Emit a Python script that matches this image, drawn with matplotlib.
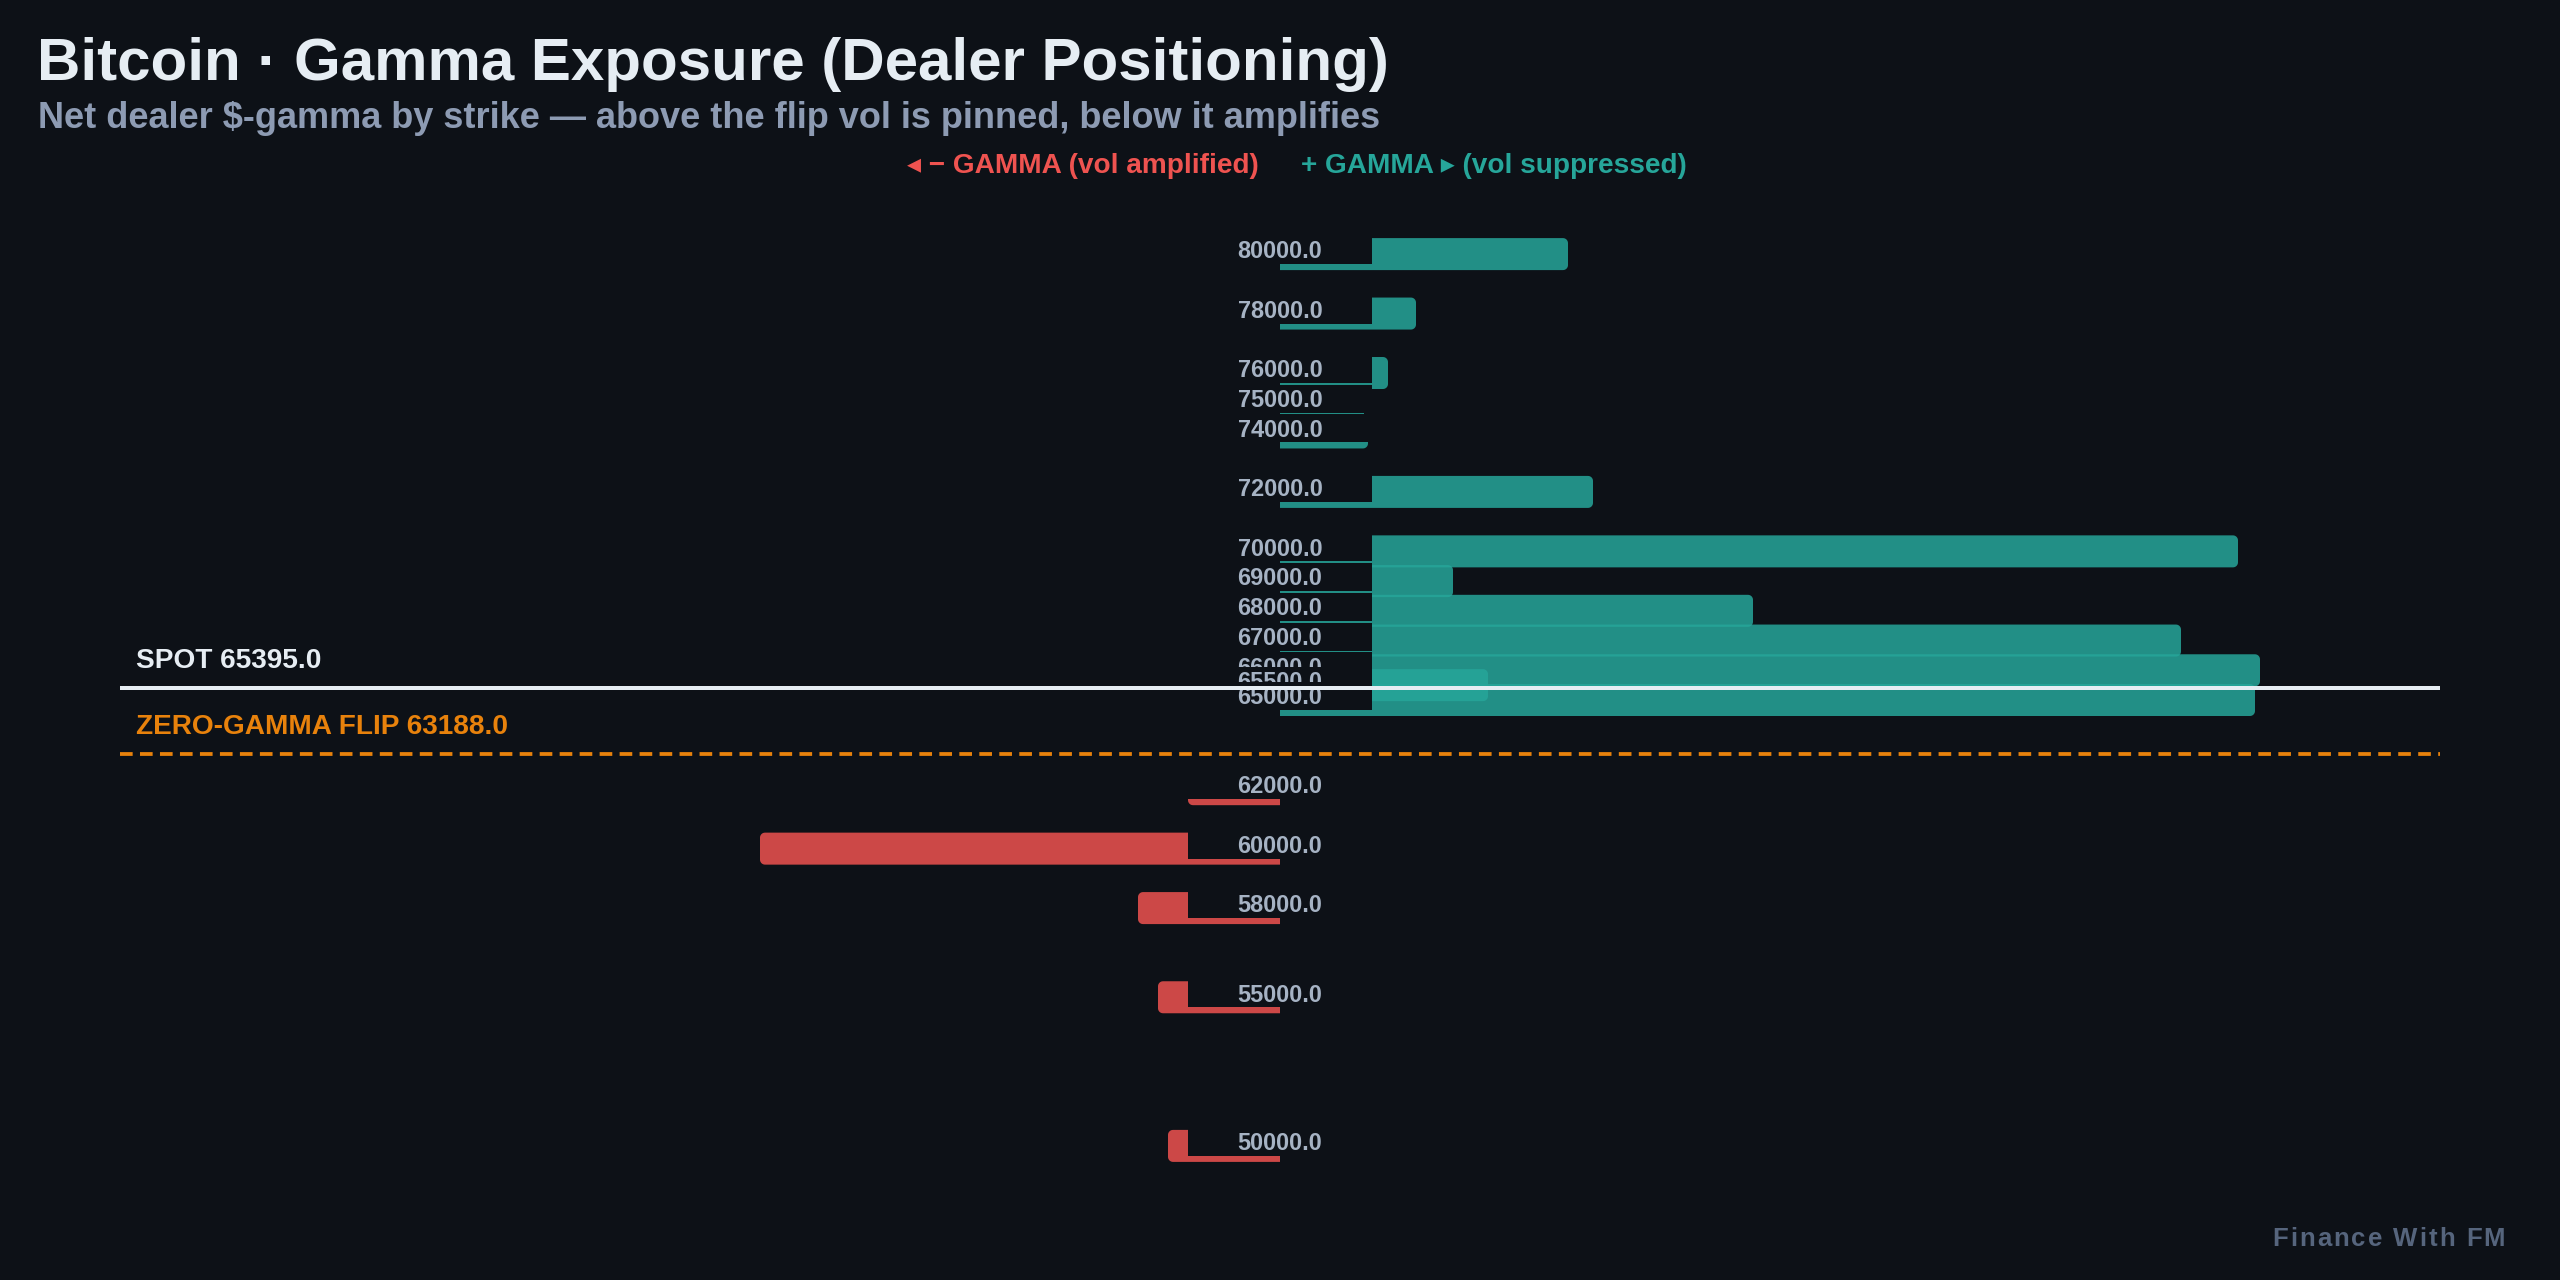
import numpy as np
import matplotlib
matplotlib.use("Agg")
import matplotlib.pyplot as plt
from matplotlib.patches import Polygon, Rectangle

plt.rcParams['font.family'] = ['Liberation Sans', 'DejaVu Sans']

# net dealer gamma by strike ($M, + = long gamma)
strikes = [80000, 78000, 76000, 75000, 74000, 72000, 70000, 69000, 68000,
           67000, 66000, 65500, 65000, 62000, 60000, 58000, 55000, 50000]
gex = [28.8, 13.6, 10.8, 8.4, 8.8, 31.3, 95.8, 17.3, 47.3,
       90.1, 98.0, 20.8, 97.5, -9.2, -52.0, -14.2, -12.2, -11.2]
spot = 65395.0
flip = 63188.0

BG = '#0d1117'
POS = '#26a69a'
NEG = '#ef5350'
TXT = '#e6edf3'
MUTED = '#8d9bb3'
LBL = '#a6b3c4'
ORANGE = '#e8820c'

W, H = 2560, 1280
fig = plt.figure(figsize=(16, 8), dpi=160, facecolor=BG)
ax = fig.add_axes([120 / W, 80 / H, 2320 / W, 1000 / H])
ax.set_facecolor(BG)
ax.set_xlim(-116, 116)
ax.set_ylim(48180, 81820)
ax.axis('off')

# data units per pixel
ux = 232 / 2320
uy = (81820 - 48180) / 1000


def bar_poly(val, yc, h, r_px=5):
    # bar from 0 to val, only the value end rounded
    sgn = 1 if val >= 0 else -1
    rx = min(r_px * ux, abs(val))
    ry = r_px * uy
    yb, yt = yc - h / 2, yc + h / 2
    t1 = np.linspace(-np.pi / 2, 0, 8)
    t2 = np.linspace(0, np.pi / 2, 8)
    cx = val - sgn * rx
    pts = [(0, yb)]
    pts += [(cx + sgn * rx * np.cos(t), yb + ry + ry * np.sin(t)) for t in t1]
    pts += [(cx + sgn * rx * np.cos(t), yt - ry + ry * np.sin(t)) for t in t2]
    pts += [(0, yt)]
    return pts


bar_h = 32 * uy
for s, v in zip(strikes, gex):
    col = POS if v > 0 else NEG
    ax.add_patch(Polygon(bar_poly(v, s, bar_h), closed=True, fc=col,
                         ec='none', alpha=0.85, zorder=2))

# strike labels sit on an opaque plate in the middle
for i, s in enumerate(strikes):
    ax.add_patch(Rectangle((-92 * ux, s + 4 * uy - 14 * uy), 184 * ux, 28 * uy,
                           fc=BG, ec='none', zorder=3 + 2 * i))
    ax.text(0, s - 4.3 * uy, f"{float(s)}", ha='center', va='baseline',
            fontsize=10.6, fontweight='bold', color=LBL, zorder=4 + 2 * i)

ax.axhline(spot, color=TXT, lw=1.8, zorder=100)
ax.axhline(flip, color=ORANGE, lw=1.7, linestyle=(0, (3.35, 1.94)), zorder=100)
tr = ax.get_yaxis_transform()
ax.text(16 / 2320, spot + 20 * uy, f"SPOT {spot}", transform=tr,
        ha='left', va='baseline', fontsize=12.6, fontweight='bold', color=TXT, zorder=101)
ax.text(16 / 2320, flip + 19.5 * uy, f"ZERO-GAMMA FLIP {flip}", transform=tr,
        ha='left', va='baseline', fontsize=12.6, fontweight='bold', color=ORANGE, zorder=101)

fig.text(37 / W, 1 - 80 / H, "Bitcoin · Gamma Exposure (Dealer Positioning)",
         ha='left', va='baseline', fontsize=27, fontweight='bold', color=TXT)
fig.text(38.5 / W, 1 - 127.8 / H,
         "Net dealer $-gamma by strike — above the flip vol is pinned, below it amplifies",
         ha='left', va='baseline', fontsize=16.25, fontweight='bold', color=MUTED)

fig.text(1259 / W, 1 - 173.3 / H, "◂ − GAMMA (vol amplified)", ha='right',
         va='baseline', fontsize=12.6, fontweight='bold', color=NEG)
fig.text(1301 / W, 1 - 173.3 / H, "+ GAMMA ▸ (vol suppressed)", ha='left',
         va='baseline', fontsize=12.6, fontweight='bold', color=POS)

# watermark, letter-spaced
renderer = fig.canvas.get_renderer()
wm = "Finance With FM"
wm_kw = dict(fontsize=11.6, fontweight='bold', color='#56657d', va='baseline', ha='left')


def text_w(s):
    t = fig.text(0, 0, s, **wm_kw)
    w = t.get_window_extent(renderer).width
    t.remove()
    return w


sp = 2.0
x0 = 2505 - (text_w(wm) + sp * (len(wm) - 1))
for i, ch in enumerate(wm):
    if ch == ' ':
        continue
    xi = x0 + text_w(wm[:i + 1]) - text_w(ch) + i * sp
    fig.text(xi / W, 1 - 1245.7 / H, ch, **wm_kw)

fig.savefig("out.png", dpi=160, facecolor=BG)
